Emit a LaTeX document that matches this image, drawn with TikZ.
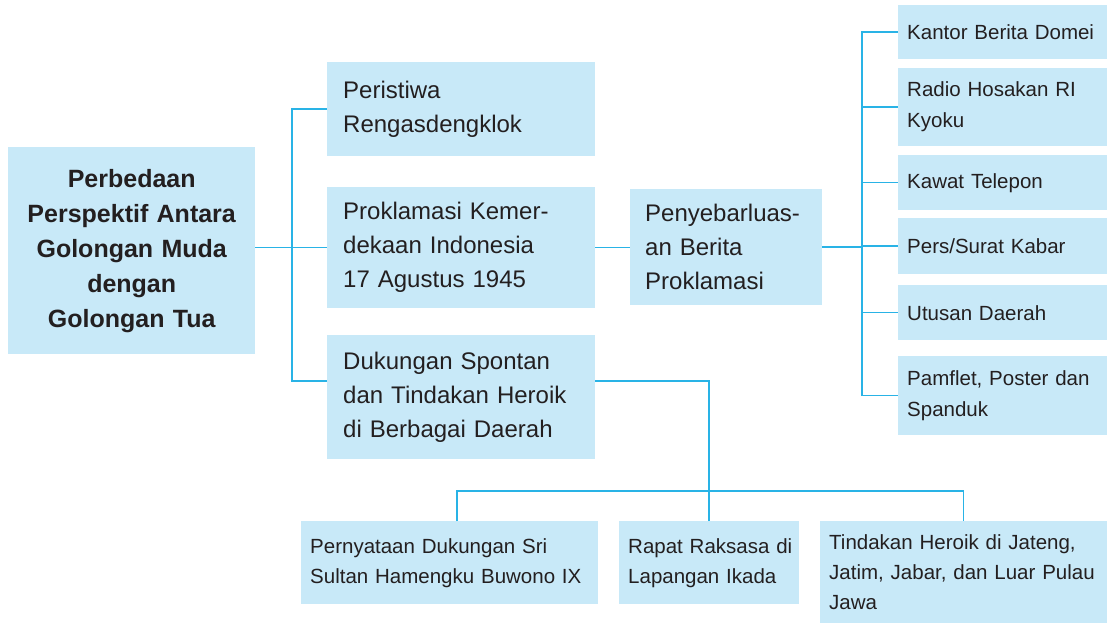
\documentclass[tikz,border=0pt]{standalone}
\usepackage{fontspec}
\setmainfont{Liberation Sans}
\definecolor{boxfill}{HTML}{C8E9F8}
\definecolor{linec}{HTML}{29B3E6}
\definecolor{txt}{HTML}{231F20}
\tikzset{
  box/.style={fill=boxfill, draw=none, anchor=north west, inner ysep=0pt, text=txt, align=left},
  bigbox/.style={box, inner xsep=16pt, font=\fontsize{24}{34}\selectfont},
  smallbox/.style={box, inner xsep=9pt, font=\fontsize{20.5}{31}\selectfont},
  lowbox/.style={box, inner xsep=9pt, font=\fontsize{20.5}{30}\selectfont},
  conn/.style={draw=linec, line width=1.5pt}
}
\begin{document}
\begin{tikzpicture}[x=1pt,y=-1pt]
\useasboundingbox (0,0) rectangle (1108,623);
% main box
\node[box, align=center, inner xsep=6pt, text width=235pt, minimum height=207pt,
      font=\fontsize{25}{35}\selectfont\bfseries] (main) at (8,147)
  {Perbedaan\\Perspektif Antara\\Golongan Muda\\dengan\\Golongan Tua};
% middle column
\node[bigbox, text width=236pt, minimum height=94pt] (peri) at (327,62)
  {Peristiwa\\Rengasdengklok};
\node[bigbox, text width=236pt, minimum height=121pt] (prok) at (327,187)
  {\makebox[212pt][s]{Proklamasi Kemer-}\\\makebox[212pt][s]{dekaan Indonesia}\\\mbox{17 Agustus 1945}};
\node[bigbox, text width=236pt, minimum height=124pt] (duk) at (327,335)
  {\mbox{Dukungan Spontan}\\\mbox{dan Tindakan Heroik}\\\mbox{di Berbagai Daerah}};
\node[bigbox, inner xsep=15pt, text width=162pt, minimum height=116pt] (peny) at (630,189)
  {\mbox{Penyebarluas-}\\\mbox{an Berita}\\\mbox{Proklamasi}};
% right column
\node[smallbox, text width=191pt, minimum height=54pt] (r1) at (898,5) {\mbox{Kantor Berita Domei}};
\node[smallbox, text width=191pt, minimum height=78pt] (r2) at (898,68) {\mbox{Radio Hosakan RI}\\\mbox{Kyoku}};
\node[smallbox, text width=191pt, minimum height=55pt] (r3) at (898,155) {\mbox{Kawat Telepon}};
\node[smallbox, text width=191pt, minimum height=56pt] (r4) at (898,218) {\mbox{Pers/Surat Kabar}};
\node[smallbox, text width=191pt, minimum height=55pt] (r5) at (898,285) {\mbox{Utusan Daerah}};
\node[smallbox, text width=191pt, minimum height=79pt] (r6) at (898,356) {\mbox{Pamflet, Poster dan}\\\mbox{Spanduk}};
% bottom row
\node[lowbox, text width=279pt, minimum height=83pt] (b1) at (301,521)
  {\mbox{Pernyataan Dukungan Sri}\\\mbox{Sultan Hamengku Buwono IX}};
\node[lowbox, text width=162pt, minimum height=83pt] (b2) at (619,521)
  {\mbox{Rapat Raksasa di}\\\mbox{Lapangan Ikada}};
\node[lowbox, text width=269pt, minimum height=102pt] (b3) at (820,521)
  {\mbox{Tindakan Heroik di Jateng,}\\\mbox{Jatim, Jabar, dan Luar Pulau}\\\mbox{Jawa}};
% helper coordinates
\coordinate (tr) at (292,0);
\coordinate (dk) at (327,381);
\coordinate (dkr) at (595,381);
\coordinate (cx) at (862,0);
\coordinate (bar) at (0,491);
\coordinate (b1t) at (457,521);
% connectors: main to middle column
\draw[conn] (main.east |- prok.west) -- (prok.west);
\draw[conn] (peri.west) -- (peri.west -| tr) -- (tr |- dk) -- (dk);
% proklamasi to penyebarluasan
\draw[conn] (prok.east) -- (prok.east -| peny.west);
% penyebarluasan to right column
\draw[conn] (peny.east) -- (peny.east -| cx);
\draw[conn] (r1.west) -- (r1.west -| cx) -- (r6.west -| cx) -- (r6.west);
\foreach \r in {r2,r3,r4,r5} { \draw[conn] (\r.west -| cx) -- (\r.west); }
% dukungan to bottom row
\draw[conn] (dkr) -- (dkr -| b2.north) -- (b2.north);
\draw[conn] (b1t) -- (b1t |- bar) -- (bar -| b3.north) -- (b3.north);
\end{tikzpicture}
\end{document}
